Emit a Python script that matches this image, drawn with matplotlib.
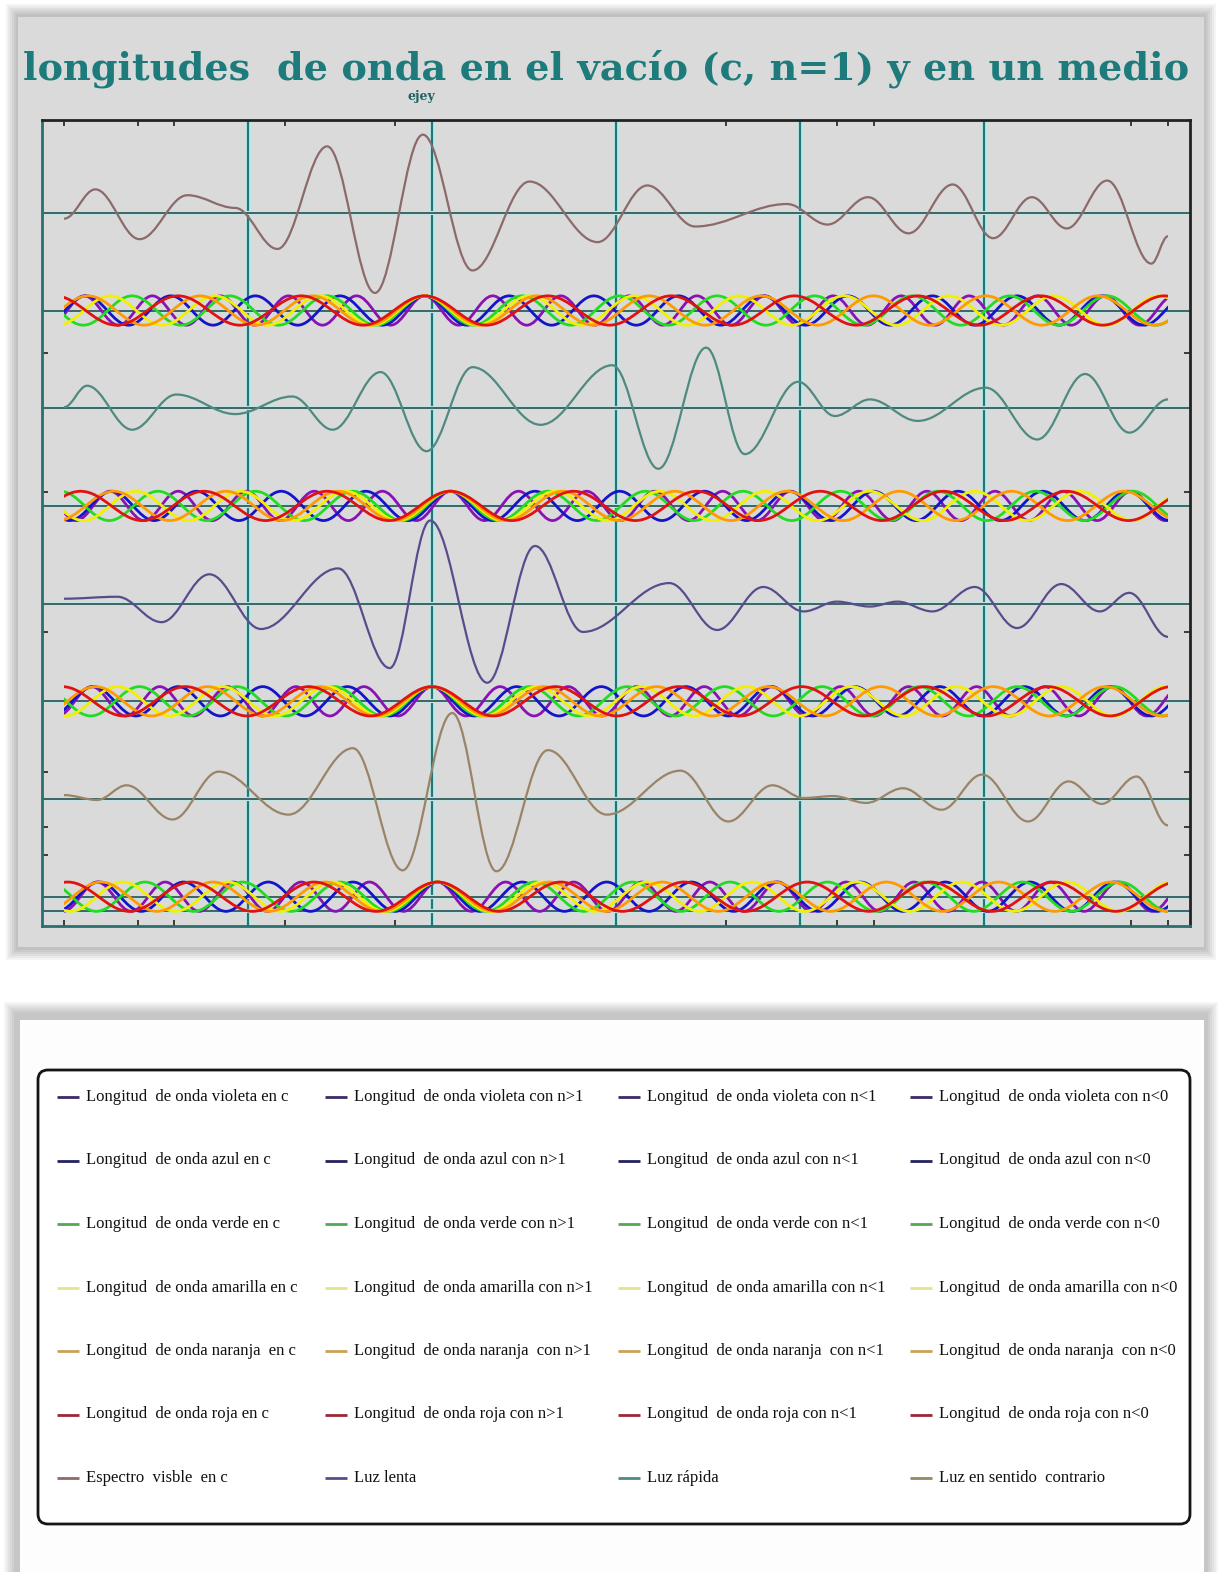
import matplotlib.pyplot as plt
from matplotlib.path import Path
from matplotlib.patches import PathPatch, Rectangle, FancyBboxPatch

# ---- datos (x: 0..6, y: desplazamiento sobre la linea base) ----
espectro_x = [0.0, 0.17, 0.41, 0.67, 0.93, 1.16, 1.43, 1.69, 1.95, 2.22, 2.53, 2.90,
              3.17, 3.43, 3.93, 4.15, 4.37, 4.59, 4.83, 5.05, 5.26, 5.45, 5.67, 5.91, 6.0]
espectro_y = [-0.06, 0.24, -0.27, 0.18, 0.05, -0.37, 0.68, -0.82, 0.80, -0.59, 0.32, -0.30,
              0.28, -0.14, 0.09, -0.12, 0.16, -0.21, 0.29, -0.26, 0.16, -0.16, 0.33, -0.52, -0.24]

rapida_x = [0.0, 0.125, 0.37, 0.61, 0.93, 1.24, 1.46, 1.72, 1.97, 2.22, 2.59, 2.98,
            3.23, 3.49, 3.70, 3.99, 4.19, 4.38, 4.64, 5.01, 5.29, 5.55, 5.79, 6.0]
rapida_y = [0.01, 0.23, -0.22, 0.14, -0.06, 0.12, -0.22, 0.37, -0.44, 0.42, -0.17, 0.44,
            -0.62, 0.62, -0.47, 0.27, -0.08, 0.09, -0.13, 0.21, -0.32, 0.35, -0.25, 0.09]

lenta_x = [0.0, 0.29, 0.53, 0.79, 1.07, 1.49, 1.77, 1.99, 2.30, 2.56, 2.82, 3.29, 3.55,
           3.80, 4.02, 4.20, 4.38, 4.53, 4.72, 4.95, 5.18, 5.42, 5.63, 5.79, 6.0]
lenta_y = [0.05, 0.07, -0.19, 0.30, -0.26, 0.36, -0.66, 0.85, -0.81, 0.59, -0.29, 0.21, -0.27,
           0.17, -0.08, 0.02, -0.03, 0.02, -0.08, 0.17, -0.25, 0.20, -0.08, 0.11, -0.34]

contrario_x = [0.0, 0.18, 0.34, 0.59, 0.84, 1.22, 1.57, 1.84, 2.11, 2.35, 2.63, 2.95, 3.35,
               3.61, 3.85, 4.02, 4.18, 4.36, 4.56, 4.77, 4.99, 5.24, 5.46, 5.64, 5.83, 6.0]
contrario_y = [0.04, -0.01, 0.14, -0.21, 0.28, -0.16, 0.52, -0.73, 0.88, -0.74, 0.50, -0.16, 0.29,
               -0.23, 0.14, 0.01, 0.03, -0.04, 0.11, -0.11, 0.25, -0.23, 0.18, -0.05, 0.23, -0.27]

# crestas de cada color (violeta, azul, verde, amarilla, naranja, roja)
crestas_c = [
    [-0.26, 0.11, 0.48, 0.85, 1.22, 1.59, 1.96, 2.33, 2.70, 3.07, 3.44, 3.81, 4.18, 4.55, 4.92, 5.29, 5.66, 6.03],
    [-0.34, 0.12, 0.58, 1.04, 1.50, 1.96, 2.42, 2.88, 3.34, 3.80, 4.26, 4.72, 5.18, 5.64, 6.10],
    [-0.16, 0.37, 0.90, 1.43, 1.96, 2.49, 3.02, 3.55, 4.08, 4.61, 5.14, 5.67, 6.20],
    [-0.32, 0.25, 0.82, 1.39, 1.96, 2.53, 3.10, 3.67, 4.24, 4.81, 5.38, 5.95, 6.52],
    [-0.48, 0.13, 0.74, 1.35, 1.96, 2.57, 3.18, 3.79, 4.40, 5.01, 5.62, 6.23],
    [-0.05, 0.62, 1.29, 1.96, 2.63, 3.30, 3.97, 4.64, 5.31, 5.98, 6.65],
]
crestas_n_mayor = [
    [-0.12, 0.25, 0.62, 0.99, 1.36, 1.73, 2.10, 2.47, 2.84, 3.21, 3.58, 3.95, 4.32, 4.69, 5.06, 5.43, 5.80, 6.17],
    [-0.20, 0.26, 0.72, 1.18, 1.64, 2.10, 2.56, 3.02, 3.48, 3.94, 4.40, 4.86, 5.32, 5.78, 6.24],
    [-0.02, 0.51, 1.04, 1.57, 2.10, 2.63, 3.16, 3.69, 4.22, 4.75, 5.28, 5.81, 6.34],
    [-0.18, 0.39, 0.96, 1.53, 2.10, 2.67, 3.24, 3.81, 4.38, 4.95, 5.52, 6.09],
    [-0.34, 0.27, 0.88, 1.49, 2.10, 2.71, 3.32, 3.93, 4.54, 5.15, 5.76, 6.37],
    [-0.58, 0.09, 0.76, 1.43, 2.10, 2.77, 3.44, 4.11, 4.78, 5.45, 6.12],
]
crestas_n_menor = [
    [-0.22, 0.15, 0.52, 0.89, 1.26, 1.63, 2.00, 2.37, 2.74, 3.11, 3.48, 3.85, 4.22, 4.59, 4.96, 5.33, 5.70, 6.07],
    [-0.30, 0.16, 0.62, 1.08, 1.54, 2.00, 2.46, 2.92, 3.38, 3.84, 4.30, 4.76, 5.22, 5.68, 6.14],
    [-0.12, 0.41, 0.94, 1.47, 2.00, 2.53, 3.06, 3.59, 4.12, 4.65, 5.18, 5.71, 6.24],
    [-0.28, 0.29, 0.86, 1.43, 2.00, 2.57, 3.14, 3.71, 4.28, 4.85, 5.42, 5.99, 6.56],
    [-0.44, 0.17, 0.78, 1.39, 2.00, 2.61, 3.22, 3.83, 4.44, 5.05, 5.66, 6.27],
    [-0.68, -0.01, 0.66, 1.33, 2.00, 2.67, 3.34, 4.01, 4.68, 5.35, 6.02],
]
crestas_n_neg = [
    [-0.19, 0.18, 0.55, 0.92, 1.29, 1.66, 2.03, 2.40, 2.77, 3.14, 3.51, 3.88, 4.25, 4.62, 4.99, 5.36, 5.73, 6.10],
    [-0.27, 0.19, 0.65, 1.11, 1.57, 2.03, 2.49, 2.95, 3.41, 3.87, 4.33, 4.79, 5.25, 5.71, 6.17],
    [-0.09, 0.44, 0.97, 1.50, 2.03, 2.56, 3.09, 3.62, 4.15, 4.68, 5.21, 5.74, 6.27],
    [-0.25, 0.32, 0.89, 1.46, 2.03, 2.60, 3.17, 3.74, 4.31, 4.88, 5.45, 6.02],
    [-0.41, 0.20, 0.81, 1.42, 2.03, 2.64, 3.25, 3.86, 4.47, 5.08, 5.69, 6.30],
    [-0.65, 0.02, 0.69, 1.36, 2.03, 2.70, 3.37, 4.04, 4.71, 5.38, 6.05],
]
amplitud = 0.15

nombres = ['violeta', 'azul', 'verde', 'amarilla', 'naranja ', 'roja']
sufijos = ['en c', 'con n>1', 'con n<1', 'con n<0']
ultimos = ['Espectro  visble  en c', 'Luz lenta', 'Luz rápida', 'Luz en sentido  contrario']

colores = ['#8a12b4', '#1414c8', '#22dc22', '#f0f000', '#ff9a00', '#e01212']
colores_ley = ['#3e2a66', '#23235e', '#52a852', '#e4e48a', '#c9a258', '#9a2838']
col_espectro, col_lenta, col_rapida, col_contrario = '#8c6a6a', '#5a4c8c', '#4e8a80', '#9a8468'

W, H = 1219, 1572
fig = plt.figure(figsize=(W / 100, H / 100), dpi=100)
fig.patch.set_facecolor('white')


def fx(p):
    return p / W


def fy(p):
    return 1 - p / H


def rect(x0, y0, x1, y1, color, alpha=1.0):
    fig.patches.append(Rectangle((fx(x0), fy(y1)), fx(x1) - fx(x0), fy(y0) - fy(y1),
                                 transform=fig.transFigure, facecolor=color,
                                 edgecolor='none', alpha=alpha, zorder=-10))


# paneles con sombra
for i in range(6):
    rect(16 - 2 * i, 14 - 2 * i, 1206 + 2 * i, 950 + 2 * i, 'black', 0.045)
rect(18, 17, 1204, 947, '#dadada')
for i in range(6):
    rect(14 - 2 * i, 1012 - 2 * i, 1208 + 2 * i, 1580, 'black', 0.04)
rect(20, 1020, 1204, 1580, '#fdfdfd')

fig.text(fx(606), fy(80), 'longitudes  de onda en el vacío (c, n=1) y en un medio',
         ha='center', va='baseline', color='#1d7b7b', fontsize=27.5,
         fontweight='bold', family='DejaVu Serif')
fig.text(fx(421), fy(100), 'ejey', ha='center', va='baseline', color='#1f6262',
         fontsize=9, fontweight='bold', family='DejaVu Serif')

ax = fig.add_axes([fx(42), fy(926), fx(1190) - fx(42), fy(120) - fy(926)])
ax.set_facecolor('#dadada')
ax.set_xlim(-0.12, 6.12)
ax.set_ylim(-0.30, 7.95)
ax.set_xticks([0, 0.4, 0.6, 1.2, 1.8, 3.6, 4.2, 4.4, 5.8, 6.0])
ax.set_yticks([0.43, 0.71, 1.28, 2.71, 4.14, 5.57])
ax.tick_params(direction='in', length=4, width=1.2, top=True, right=True,
               labelbottom=False, labelleft=False, color='#202020')
for s in ['top', 'right']:
    ax.spines[s].set_color('#222222')
    ax.spines[s].set_linewidth(2)
for s in ['left', 'bottom']:
    ax.spines[s].set_color('#2b6f6f')
    ax.spines[s].set_linewidth(2)

for v in [1, 2, 3, 4, 5]:
    ax.axvline(v, color='#bdeaea', lw=4.5, zorder=1)
    ax.axvline(v, color='#2b7373', lw=1.6, zorder=1.1)
for b in [-0.15, 0, 1, 2, 3, 4, 5, 6, 7]:
    ax.axhline(b, color='#c4e4e4', lw=3, zorder=1.2)
    ax.axhline(b, color='#365a5a', lw=1.3, zorder=1.3)

clip = Rectangle((0, -1), 6, 10, transform=ax.transData)


def curva(xs, ys, base, color, lw, z):
    verts = [(xs[0], base + ys[0])]
    codes = [Path.MOVETO]
    for x0, y0, x1, y1 in zip(xs[:-1], ys[:-1], xs[1:], ys[1:]):
        d = (x1 - x0) * 0.3642
        verts += [(x0 + d, base + y0), (x1 - d, base + y1), (x1, base + y1)]
        codes += [Path.CURVE4] * 3
    p = PathPatch(Path(verts, codes), fill=False, edgecolor=color, lw=lw,
                  zorder=z, capstyle='round', joinstyle='round')
    ax.add_patch(p)
    p.set_clip_path(clip)


def haz(crestas, base):
    for k, (cr, col) in enumerate(zip(crestas, colores)):
        xs, ys = [], []
        for c0, c1 in zip(cr[:-1], cr[1:]):
            xs += [c0, (c0 + c1) / 2]
            ys += [amplitud, -amplitud]
        xs.append(cr[-1])
        ys.append(amplitud)
        curva(xs, ys, base, col, 2.0, 3 + k * 0.1)


curva(espectro_x, espectro_y, 7, col_espectro, 1.6, 3)
haz(crestas_c, 6)
curva(rapida_x, rapida_y, 5, col_rapida, 1.6, 3)
haz(crestas_n_mayor, 4)
curva(lenta_x, lenta_y, 3, col_lenta, 1.6, 3)
haz(crestas_n_menor, 2)
curva(contrario_x, contrario_y, 1, col_contrario, 1.6, 3)
haz(crestas_n_neg, 0)

# leyenda
lax = fig.add_axes([fx(38), fy(1524), fx(1190) - fx(38), fy(1070) - fy(1524)])
lax.set_xlim(0, 1152)
lax.set_ylim(454, 0)
lax.axis('off')
lax.add_patch(FancyBboxPatch((0, 0), 1152, 454, boxstyle='round,pad=0,rounding_size=10',
                             facecolor='white', edgecolor='#151515', lw=2, clip_on=False))
col_x = [19, 287, 580, 872]
fin_col = [col_espectro, col_lenta, col_rapida, col_contrario]
for j, suf in enumerate(sufijos):
    etiquetas = ['Longitud  de onda ' + n + ' ' + suf for n in nombres] + [ultimos[j]]
    cols = colores_ley + [fin_col[j]]
    for i, (et, c) in enumerate(zip(etiquetas, cols)):
        y = 27 + 63.5 * i
        lax.plot([col_x[j], col_x[j] + 22], [y, y], color=c, lw=2, solid_capstyle='butt')
        lax.text(col_x[j] + 29, y, et, va='center', ha='left', fontsize=12,
                 family='Liberation Serif', color='#111111')

fig.savefig('out.png', dpi=100, facecolor=fig.get_facecolor())
